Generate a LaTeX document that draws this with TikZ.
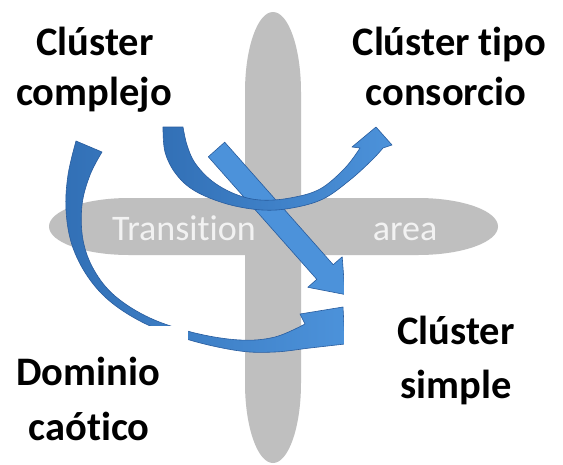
\documentclass[tikz,border=0pt]{standalone}
\usepackage{fontspec}
\setmainfont[Ligatures=NoCommon]{Carlito}
\definecolor{bargray}{RGB}{191,191,191}
\definecolor{bluelight}{RGB}{76,146,218}
\definecolor{bluedark}{RGB}{50,112,182}
\definecolor{blueedge}{RGB}{40,92,158}
\definecolor{paletext}{RGB}{242,242,242}
\begin{document}
\begin{tikzpicture}[x=1pt,y=-1pt,
  bar/.style={fill=bargray},
  arcarrow/.style={left color=bluedark, right color=bluelight, draw=blueedge, line width=0.6pt, line join=round},
  straightarrow/.style={fill=bluelight, draw=blueedge, line width=0.6pt, line join=round},
  lbl/.style={anchor=base, inner sep=0pt, font=\fontsize{40.5}{48}\selectfont\bfseries},
  axislbl/.style={anchor=base, inner sep=0pt, text=paletext, font=\fontsize{36}{42}\selectfont}]
\useasboundingbox (0,0) rectangle (563,464);
\fill[white] (0,0) rectangle (563,464);

% the two crossing grey bars, straight sides with long elliptic ends
\fill[bar] (245,92) arc[start angle=180, end angle=360, x radius=28, y radius=80]
  -- (301,383) arc[start angle=0, end angle=180, x radius=28, y radius=80] -- cycle;
\fill[bar] (129,198) -- (418,198) arc[start angle=270, end angle=450, x radius=80, y radius=28.5]
  -- (129,255) arc[start angle=90, end angle=270, x radius=80, y radius=28.5] -- cycle;
\node[axislbl] (trans) at (184,240) {Transition};
\node[axislbl] (area) at (405,240) {area};

% straight arrow towards the simple cluster
\path[straightarrow] (208.3,156.8) -- (224.7,142.2) -- (333.2,264.7) -- (342.2,256.8)
  -- (345,294.5) -- (307.8,287.3) -- (316.8,279.3) -- cycle;

% U-shaped arrow towards the consortium cluster
\path[arcarrow] plot[smooth, tension=0.6] coordinates {(163,127) (165,152) (176,174) (195,191) (227,204) (262,210) (292,208) (323,199) (350,180) (372,160) (383,148)}
  -- (392,145) -- (376,127) -- (352,147) -- (360,148)
  -- plot[smooth, tension=0.6] coordinates {(360,148) (345,168) (320,189) (290,198) (260,200) (235,194) (212,181) (195,163) (187,145) (183,127)}
  -- cycle;

% large sweeping arrow on the left
\path[arcarrow] plot[smooth, tension=0.6] coordinates {(76,141) (68,175) (66,210) (72,245) (88,277) (112,303) (148,325) (193,341) (240,351) (275,352) (310,348) (345,344)}
  -- (343,307) -- (300,314) -- (305,324)
  -- plot[smooth, tension=0.6] coordinates {(305,324) (275,337) (240,340) (195,333) (150,318) (115,296) (94,270) (83,240) (82,205) (90,175) (102,152)}
  -- cycle;

% white label panels that cut the arrows
\fill[white] (0,326) rectangle (188,464);
\fill[white] (343.5,256) rectangle (563,464);

% quadrant labels
\node[lbl] (cc1) at (95,55) {Clúster};
\node[lbl] (cc2) at (94,105) {complejo};
\node[lbl] (ct1) at (449.5,55) {Clúster tipo};
\node[lbl] (ct2) at (446,105) {consorcio};
\node[lbl] (cs1) at (456,344) {Clúster};
\node[lbl] (cs2) at (456,398) {simple};
\node[lbl] (dc1) at (88,385) {Dominio};
\node[lbl] (dc2) at (89,440) {caótico};
\end{tikzpicture}
\end{document}
